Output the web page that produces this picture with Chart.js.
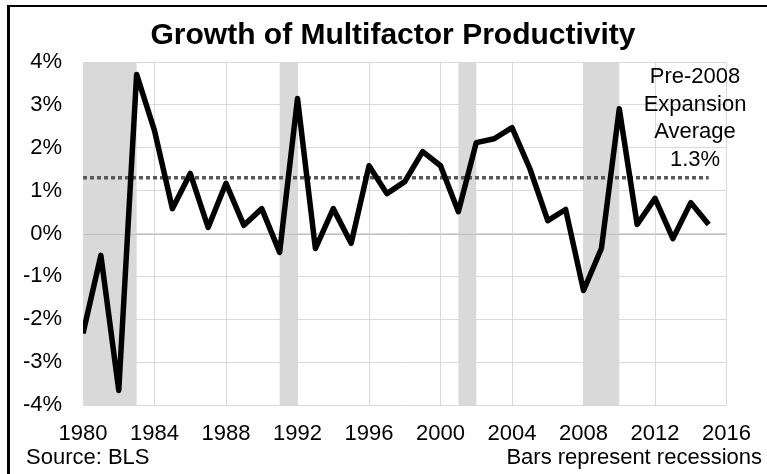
<!DOCTYPE html>
<html>
<head>
<meta charset="utf-8">
<script src="https://cdn.jsdelivr.net/npm/chart.js@4"></script>
<style>
  html, body { margin: 0; padding: 0; background: #fff; }
  canvas { display: block; }
</style>
</head>
<body>
<canvas id="myChart" width="767" height="474"></canvas>
<script>
const years = [1980,1981,1982,1983,1984,1985,1986,1987,1988,1989,1990,1991,1992,1993,1994,1995,1996,1997,
  1998,1999,2000,2001,2002,2003,2004,2005,2006,2007,2008,2009,2010,2011,2012,2013,2014,2015]
const mfp = [-2.33,-0.51,-3.66,3.71,2.40,0.58,1.40,0.14,1.17,0.19,0.58,-0.44,3.15,-0.35,0.58,-0.23,1.58,0.93,
  1.21,1.91,1.58,0.51,2.12,2.21,2.47,1.51,0.30,0.56,-1.33,-0.35,2.91,0.21,0.82,-0.12,0.72,0.21]
const avgValue = 1.3
const avgRange = [1980, 2015]
const recessionStart = [1980, 1991, 2001, 2008]
const recessionEnd = [1983, 1992, 2002, 2010]
const xTicks = [1980, 2016, 4]
const yTicks = [-4, 4, 1]

const FONT = '"Liberation Sans", Arial, sans-serif'
Chart.defaults.font.family = FONT
Chart.defaults.color = '#000'

const lineData = []
for (let i = 0; i <= years.length-1; i++){
  lineData.push({x: years[i], y: mfp[i]})
}

// grey recession bars + the 0% line, under the data lines
const recessions = {
  id: 'recessions',
  beforeDatasetsDraw(chart) {
    const c = chart.ctx, x = chart.scales.x, y = chart.scales.y
    const area = chart.chartArea
    c.save()
    c.fillStyle = '#d9d9d9'
    for (let i = 0; i < recessionStart.length; i++){
      const a = x.getPixelForValue(recessionStart[i])
      const b = x.getPixelForValue(recessionEnd[i])
      c.fillRect(a, area.top, b - a, area.bottom - area.top)
    }
    const y0 = Math.round(y.getPixelForValue(0)) + 0.5
    c.strokeStyle = '#bfbfbf'
    c.lineWidth = 1
    c.beginPath()
    c.moveTo(area.left, y0)
    c.lineTo(area.right, y0)
    c.stroke()
    c.restore()
  }
}

// title, notes, annotation and the frame
const texts = {
  id: 'texts',
  afterDraw(chart) {
    const c = chart.ctx
    c.save()
    c.fillStyle = '#000'
    c.fillRect(7, 5, 760, 2)
    c.fillRect(7, 5, 3, 469)

    c.textBaseline = 'middle'
    c.textAlign = 'center'
    c.font = 'bold 30px ' + FONT
    c.fillText('Growth of Multifactor Productivity', 393, 36)

    c.font = '22px ' + FONT
    const notes = ['Pre-2008', 'Expansion', 'Average', '1.3%']
    for (let i = 0; i < notes.length; i++){
      c.fillText(notes[i], 695, 77 + i * 27.5)
    }
    c.textAlign = 'left'
    c.fillText('Source: BLS', 26, 458)
    c.textAlign = 'right'
    c.fillText('Bars represent recessions', 762, 458)
    c.restore()
  }
}

new Chart(document.getElementById('myChart'), {
  type: 'line',
  data: {
    datasets: [{
      label: 'Multifactor productivity growth',
      data: lineData,
      borderColor: '#000',
      borderWidth: 5.5,
      borderJoinStyle: 'round',
      pointRadius: 0,
      tension: 0
    }, {
      label: 'Pre-2008 expansion average',
      data: [{x: avgRange[0], y: avgValue}, {x: avgRange[1], y: avgValue}],
      borderColor: '#595959',
      borderWidth: 3.5,
      borderDash: [4, 3],
      pointRadius: 0
    }]
  },
  options: {
    responsive: false,
    animation: false,
    layout: { padding: { top: 62, right: 27, left: 0, bottom: 0 } },
    plugins: { legend: { display: false }, tooltip: { enabled: false } },
    scales: {
      x: {
        type: 'linear',
        min: xTicks[0],
        max: xTicks[1],
        afterFit(s) { s.height = 69 },
        grid: { color: '#d9d9d9', lineWidth: 1, drawTicks: false },
        border: { display: false },
        ticks: {
          stepSize: xTicks[2],
          padding: 16,
          font: { size: 22 },
          maxRotation: 0,
          callback: v => String(v)
        }
      },
      y: {
        min: yTicks[0],
        max: yTicks[1],
        afterFit(s) { s.width = 83 },
        grid: { color: '#d9d9d9', lineWidth: 1, drawTicks: false },
        border: { display: false },
        ticks: {
          stepSize: yTicks[2],
          padding: 21,
          font: { size: 22 },
          callback: v => v + '%'
        }
      }
    }
  },
  plugins: [recessions, texts]
});
</script>
</body>
</html>
